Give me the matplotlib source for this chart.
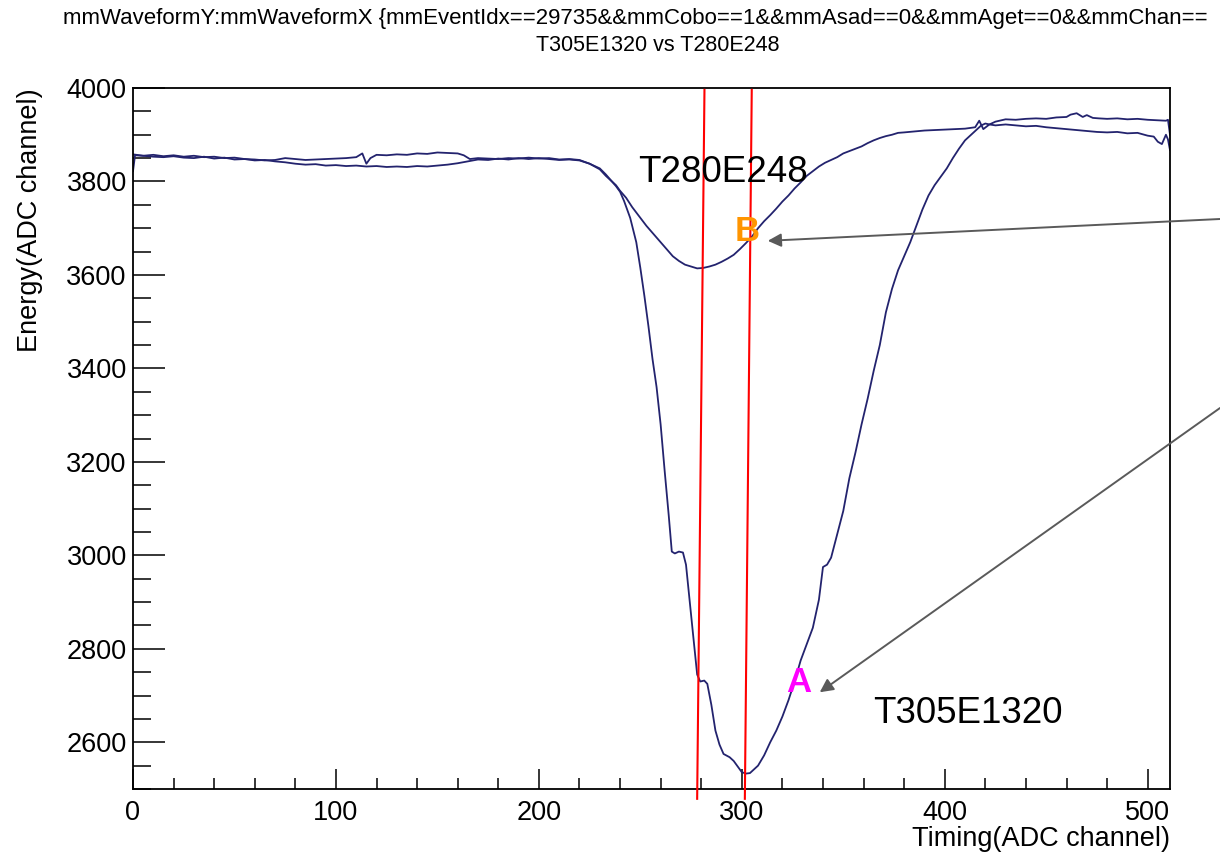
import matplotlib
matplotlib.use("Agg")
import matplotlib.pyplot as plt
from matplotlib.ticker import MultipleLocator

# ---------------- data ----------------
t_a = [0, 1, 5, 10, 15, 20, 25, 30, 35, 40, 45, 50,
       55, 60, 65, 70, 75, 80, 85, 90, 95, 100,
       105, 110, 115, 120, 125, 130, 135, 140, 145, 150,
       155, 160, 165, 170, 175, 180, 185, 190, 195, 200,
       205, 210, 215, 220, 225, 230, 233, 236, 238, 240,
       242, 245, 248, 250, 252, 254, 256, 258, 260, 262,
       264, 265.5, 267, 269, 271, 272.5, 274, 276, 278, 279.5,
       281.5, 283, 285, 287, 289, 291, 294, 296, 298, 300,
       302, 304, 306, 308, 311, 314, 317, 320, 323, 326,
       329, 332, 335, 338, 340, 342, 344, 347, 350, 353,
       356, 359, 362, 365, 368, 371, 374, 377, 380, 383,
       386, 389, 392, 395, 398, 401, 404, 407, 410, 413,
       416, 418, 420, 422, 425, 430, 435, 440, 445, 450,
       455, 460, 462, 465, 468, 470, 473, 476, 480, 485,
       490, 495, 500, 505, 509, 510, 511]
e_a = [3822, 3856, 3855, 3853, 3852, 3854, 3851, 3850, 3853, 3849, 3851, 3847,
       3848, 3845, 3846, 3843, 3841, 3838, 3836, 3837, 3834, 3835,
       3833, 3834, 3832, 3833, 3831, 3832, 3831, 3833, 3832, 3834,
       3836, 3839, 3843, 3847, 3846, 3849, 3847, 3850, 3848, 3850,
       3848, 3846, 3847, 3845, 3838, 3828, 3815, 3800, 3790, 3778,
       3758, 3722, 3670, 3615, 3555, 3490, 3420, 3360, 3280, 3180,
       3085, 3008, 3004, 3008, 3006, 2980, 2915, 2830, 2745, 2730,
       2732, 2725, 2680, 2625, 2595, 2575, 2568, 2560, 2548, 2536,
       2533, 2534, 2542, 2550, 2572, 2600, 2625, 2655, 2690, 2730,
       2775, 2810, 2845, 2905, 2975, 2980, 2995, 3045, 3095, 3165,
       3220, 3280, 3335, 3395, 3450, 3520, 3570, 3610, 3640, 3670,
       3705, 3740, 3770, 3792, 3810, 3828, 3850, 3870, 3888, 3900,
       3912, 3920, 3924, 3922, 3928, 3933, 3932, 3934, 3935, 3934,
       3937, 3938, 3943, 3946, 3938, 3942, 3936, 3935, 3934, 3935,
       3933, 3934, 3932, 3931, 3930, 3932, 3900]

t_b = [0, 5, 10, 15, 20, 25, 30, 35, 40, 45, 50,
       55, 60, 65, 70, 75, 80, 85, 90, 95, 100,
       105, 110, 113, 115, 117, 120, 125, 130, 135, 140,
       145, 150, 155, 160, 163, 166, 170, 175, 180, 185,
       190, 195, 200, 205, 210, 215, 220, 225, 230, 233,
       236, 238, 240, 243, 246, 250, 253, 256, 260, 263,
       266, 269, 272, 275, 278, 281, 284, 287, 290, 293,
       296, 299, 302, 305, 308, 311, 314, 317, 320, 323,
       326, 329, 332, 335, 338, 341, 344, 347, 350, 353,
       356, 359, 362, 365, 368, 371, 374, 377, 380, 385,
       390, 395, 400, 405, 410, 415, 417, 419, 422, 425,
       430, 435, 440, 445, 450, 455, 460, 465, 470, 475,
       480, 485, 490, 495, 500, 503, 505, 507, 509, 510,
       511]
e_b = [3858, 3855, 3857, 3854, 3856, 3853, 3855, 3852, 3853, 3850, 3851,
       3848, 3847, 3845, 3846, 3850, 3848, 3846, 3847, 3848, 3849,
       3850, 3852, 3860, 3838, 3850, 3857, 3856, 3858, 3857, 3860,
       3859, 3862, 3861, 3860, 3856, 3848, 3850, 3849, 3848, 3850,
       3849, 3851, 3849, 3850, 3847, 3848, 3846, 3838, 3826, 3812,
       3800, 3792, 3780, 3765, 3745, 3722, 3705, 3690, 3670, 3655,
       3640, 3630, 3622, 3618, 3614, 3615, 3618, 3622, 3628, 3635,
       3643, 3655, 3668, 3682, 3700, 3715, 3728, 3742, 3757, 3770,
       3785, 3798, 3812, 3822, 3832, 3840, 3846, 3852, 3860, 3865,
       3870, 3875, 3882, 3888, 3893, 3897, 3900, 3904, 3905, 3907,
       3909, 3910, 3911, 3912, 3913, 3916, 3930, 3912, 3922, 3920,
       3922, 3920, 3918, 3919, 3916, 3914, 3912, 3910, 3908, 3906,
       3905, 3906, 3903, 3904, 3898, 3896, 3885, 3880, 3900, 3890,
       3867]

title_line1 = "mmWaveformY:mmWaveformX {mmEventIdx==29735&&mmCobo==1&&mmAsad==0&&mmAget==0&&mmChan=="
title_line2 = "T305E1320 vs T280E248"
xlabel = "Timing(ADC channel)"
ylabel = "Energy(ADC channel)"
label_a = "T305E1320"
label_b = "T280E248"

# annotation guide lines (data coords, extending outside the frame)
red1_t = [281.6, 278.0]
red2_t = [304.9, 301.5]
red_e = [3996, 2479]

assert len(t_a) == len(e_a) and len(t_b) == len(e_b)

# ---------------- figure ----------------
W, H = 1220, 855
fig = plt.figure(figsize=(W / 100, H / 100), dpi=100)
fig.patch.set_facecolor("white")
font = ["Liberation Sans", "DejaVu Sans"]
plt.rcParams["font.family"] = font

ax = fig.add_axes([133 / W, 66 / H, 1037 / W, 701 / H])
line_col = "#23236e"
ax.plot(t_b, e_b, color=line_col, lw=1.3)
ax.plot(t_a, e_a, color=line_col, lw=1.3)

ax.set_xlim(0, 511)
ax.set_ylim(2500, 4000)
ax.xaxis.set_major_locator(MultipleLocator(100))
ax.xaxis.set_minor_locator(MultipleLocator(20))
ax.yaxis.set_major_locator(MultipleLocator(200))
ax.yaxis.set_minor_locator(MultipleLocator(50))

ax.tick_params(axis="both", which="both", direction="in", top=False, right=False,
               width=1.1, color="black", labelsize=19.5)
ax.tick_params(axis="x", which="major", length=14.4, pad=8)
ax.tick_params(axis="x", which="minor", length=8)
ax.tick_params(axis="y", which="major", length=23, pad=4.5)
ax.tick_params(axis="y", which="minor", length=13)
for s in ax.spines.values():
    s.set_linewidth(1.3)
    s.set_color("black")

ax.set_xlabel(xlabel, fontsize=19.5, loc="right")
ax.xaxis.set_label_coords(1.0, -0.053)
ax.set_ylabel(ylabel, fontsize=19.5, loc="top")
ax.yaxis.set_label_coords(-0.087, 1.0)

# titles
fig.text(63 / W, 1 - 24 / H, title_line1, fontsize=16.0, ha="left", va="baseline")
fig.text(658 / W, 1 - 51 / H, title_line2, fontsize=15.5, ha="center", va="baseline")

# red guide lines
ax.plot(red1_t, red_e, color="red", lw=1.5, clip_on=False, zorder=5)
ax.plot(red2_t, red_e, color="red", lw=1.5, clip_on=False, zorder=5)

# labels
ax.text(248.8, 3799, label_b, fontsize=26.5, ha="left", va="baseline", zorder=6)
ax.text(364.5, 2641, label_a, fontsize=26.5, ha="left", va="baseline", zorder=6)
ax.text(302.7, 3673, "B", fontsize=25, fontweight="bold", color="#ff9500",
        ha="center", va="baseline", zorder=6)
ax.text(328.0, 2707, "A", fontsize=25, fontweight="bold", color="#ff00ff",
        ha="center", va="baseline", zorder=6)

# arrows
arrow_kw = dict(arrowstyle="-|>", color="#5a5a5a", lw=1.4, mutation_scale=20,
                shrinkA=0, shrinkB=0)
ax.annotate("", xy=(312.8, 3673), xycoords="data",
            xytext=(1.0, 1 - 219 / H), textcoords="figure fraction",
            arrowprops=arrow_kw, annotation_clip=False)
ax.annotate("", xy=(338.4, 2707), xycoords="data",
            xytext=(1.0, 1 - 408 / H), textcoords="figure fraction",
            arrowprops=arrow_kw, annotation_clip=False)

fig.savefig("out.png", dpi=100)
